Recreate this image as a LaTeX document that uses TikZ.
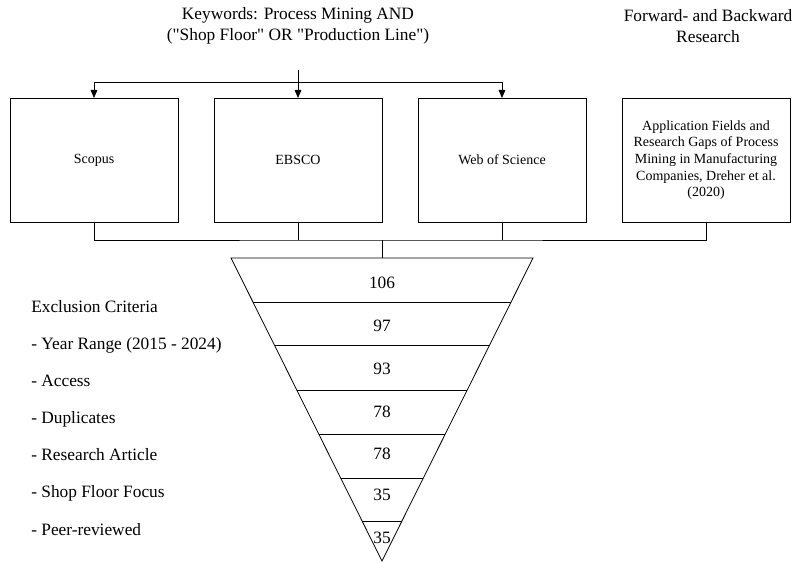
\documentclass[tikz,border=0pt]{standalone}
\usepackage{fontspec}
\setmainfont{Liberation Serif}[Ligatures=TeXOff]
\usetikzlibrary{positioning,calc,arrows.meta}
\tikzset{
	% source boxes and funnel
	src/.style = {rectangle, draw=black, line width=0.6pt,
                           minimum width=126pt, minimum height=93pt,
                           font=\fontsize{10.5}{12.5}\selectfont,
                           align=center, text centered, outer sep=0pt},
	head/.style = {align=center, font=\fontsize{13}{15.75}\selectfont},
	crit/.style = {anchor=west, inner sep=0pt, text height=9pt, text depth=3pt,
                           font=\fontsize{13}{15}\selectfont},
	cnt/.style = {inner sep=0pt, text height=9pt, text depth=0pt,
                           font=\fontsize{13}{15}\selectfont},
	con/.style = {line width=0.6pt},
	arr/.style = {con, -{Triangle[length=6pt, width=5pt]}}
}
\begin{document}
\begin{tikzpicture}[x=0.75pt, y=-0.75pt, node distance=27pt]
	\useasboundingbox (0,0) rectangle (793,563);

	\node (kw) [head] at (298,26) {Keywords: Process Mining AND\\("Shop Floor" OR "Production Line")};
	\node (fb) [head] at (708,26) {Forward- and Backward\\Research};

	\node (scopus) [src] at (94,160)        {Scopus};
	\node (ebsco)  [src, right=of scopus]   {EBSCO};
	\node (wos)    [src, right=of ebsco]    {Web of Science};
	\node (appl)   [src, right=of wos]      {Application Fields and\\Research Gaps of Process\\Mining in Manufacturing\\Companies, Dreher et al.\\(2020)};

	\coordinate (top) at (298,70);
	\coordinate (split) at (298,82);
	\draw[arr] (top) -- (ebsco.north);
	\draw[arr] (split) -| (scopus.north);
	\draw[arr] (split) -| (wos.north);

	% funnel
	\coordinate (fl) at (231,258);
	\coordinate (fr) at (533,258);
	\coordinate (apex) at (382,561);
	\coordinate (merge) at (382,240);
	\draw[con] (scopus.south) |- (merge) -| (appl.south);
	\draw[con] (ebsco.south) -- (ebsco.south |- merge);
	\draw[con] (wos.south) -- (wos.south |- merge);
	\draw[con] (merge) -- (fl -| merge);

	\draw[con] (fl) -- (fr) -- (apex) -- cycle;
	\draw[con] ($(fl)!0.145!(apex)$) -- ($(fr)!0.145!(apex)$);
	\draw[con] ($(fl)!0.290!(apex)$) -- ($(fr)!0.290!(apex)$);
	\draw[con] ($(fl)!0.436!(apex)$) -- ($(fr)!0.436!(apex)$);
	\draw[con] ($(fl)!0.581!(apex)$) -- ($(fr)!0.581!(apex)$);
	\draw[con] ($(fl)!0.726!(apex)$) -- ($(fr)!0.726!(apex)$);
	\draw[con] ($(fl)!0.868!(apex)$) -- ($(fr)!0.868!(apex)$);

	\node (n1) [cnt] at (382,282) {106};
	\node (n2) [cnt] at (382,325) {97};
	\node (n3) [cnt] at (382,368) {93};
	\node (n4) [cnt] at (382,411) {78};
	\node (n5) [cnt] at (382,453) {78};
	\node (n6) [cnt] at (382,494) {35};
	\node (n7) [cnt] at (382,537) {35};

	% exclusion criteria
	\node (ex)  [crit] at (31,308) {Exclusion Criteria};
	\node (ex1) [crit] at (31,345) {- Year Range (2015 - 2024)};
	\node (ex2) [crit] at (31,382) {- Access};
	\node (ex3) [crit] at (31,419) {- Duplicates};
	\node (ex4) [crit] at (31,456) {- Research Article};
	\node (ex5) [crit] at (31,493) {- Shop Floor Focus};
	\node (ex6) [crit] at (31,531) {- Peer-reviewed};
\end{tikzpicture}
\end{document}
